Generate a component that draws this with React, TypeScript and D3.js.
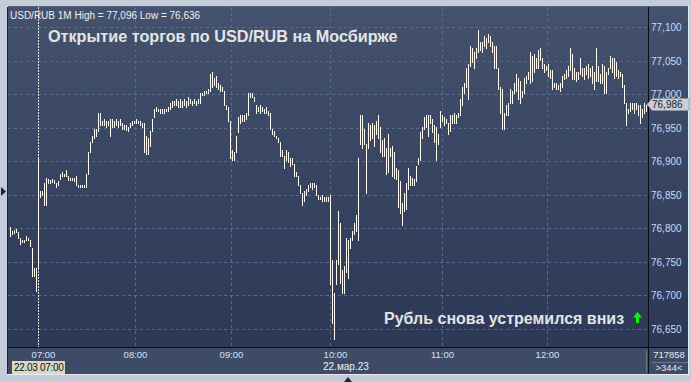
import React from 'react';
import * as d3 from 'd3';

// Minute bars (high / low), left to right
const highs = [
  76.803,76.797,76.799,76.800,76.796,76.787,76.784,76.783,76.789,76.787,
  76.784,76.771,76.741,76.742,76.906,76.857,76.857,76.868,76.876,76.875,
  76.873,76.875,76.873,76.869,76.872,76.881,76.884,76.882,76.887,76.878,
  76.876,76.876,76.876,76.878,76.866,76.866,76.866,76.866,76.882,76.914,
  76.930,76.939,76.949,76.949,76.973,76.972,76.961,76.964,76.961,76.961,
  76.964,76.964,76.961,76.964,76.961,76.963,76.958,76.954,76.954,76.951,
  76.957,76.960,76.961,76.963,76.961,76.960,76.958,76.958,76.939,76.935,
  76.946,76.964,76.979,76.981,76.979,76.979,76.978,76.978,76.979,76.981,
  76.988,76.991,76.991,76.993,76.991,76.993,76.991,76.994,76.990,76.996,
  76.993,76.991,76.994,76.991,76.993,77.003,77.003,77.005,77.006,77.008,
  77.031,77.033,77.025,77.028,77.018,77.015,77.012,77.006,76.984,76.981,
  76.961,76.917,76.914,76.939,76.966,76.969,76.969,76.970,76.972,77.003,
  77.003,77.003,76.997,76.984,76.982,76.984,76.982,76.979,76.981,76.976,
  76.973,76.949,76.946,76.939,76.935,76.930,76.917,76.909,76.917,76.914,
  76.906,76.906,76.897,76.884,76.879,76.865,76.853,76.857,76.860,76.866,
  76.868,76.868,76.868,76.866,76.850,76.848,76.850,76.847,76.847,76.847,
  76.850,76.753,76.705,76.753,76.827,76.809,76.738,76.745,76.786,76.783,
  76.786,76.797,76.809,76.820,76.906,
  76.969,76.969,76.949,76.927,76.958,76.954,76.958,76.954,76.961,76.969,
  76.951,76.932,76.935,76.921,76.942,76.921,76.924,76.914,76.890,76.887,
  76.872,76.838,76.853,76.869,76.891,76.879,76.876,76.875,76.894,76.906,
  76.944,76.951,76.966,76.969,76.969,76.969,76.964,76.954,76.951,76.942,
  76.976,76.969,76.966,76.964,76.958,76.969,76.969,76.973,76.969,76.972,
  76.994,77.011,77.017,77.040,77.046,77.073,77.069,77.063,77.069,77.096,
  77.078,77.078,77.088,77.085,77.091,77.088,77.078,77.073,77.073,77.039,
  77.011,77.009,76.973,76.984,76.987,77.009,77.006,77.018,77.031,77.025,
  77.021,77.006,77.025,77.028,77.033,77.063,77.058,77.061,77.054,77.066,
  77.069,77.054,77.046,77.043,77.046,77.036,77.036,77.018,77.017,77.014,
  77.017,77.028,77.031,77.036,77.043,77.070,77.061,77.039,77.033,77.033,
  77.055,77.040,77.040,77.043,77.046,77.039,77.043,77.033,77.069,77.043,
  77.031,77.046,77.043,77.033,77.040,77.058,77.055,77.054,77.048,77.036,
  77.033,77.031,77.014,76.987,76.979,76.988,76.988,76.987,76.988,76.984,
  76.984,76.979,76.987,76.984,
];
const lows = [
  76.790,76.793,76.794,76.795,76.787,76.778,76.780,76.780,76.783,76.783,
  76.775,76.730,76.730,76.707,76.742,76.848,76.850,76.835,76.836,76.869,
  76.869,76.870,76.868,76.862,76.865,76.875,76.878,76.878,76.879,76.873,
  76.873,76.873,76.872,76.865,76.863,76.863,76.863,76.863,76.863,76.882,
  76.914,76.930,76.935,76.939,76.946,76.954,76.954,76.955,76.952,76.954,
  76.939,76.952,76.951,76.955,76.952,76.954,76.949,76.949,76.948,76.946,
  76.951,76.955,76.957,76.957,76.957,76.955,76.952,76.914,76.912,76.912,
  76.924,76.946,76.966,76.975,76.975,76.973,76.973,76.972,76.975,76.976,
  76.979,76.982,76.984,76.985,76.982,76.982,76.981,76.985,76.982,76.984,
  76.987,76.985,76.987,76.985,76.988,76.987,76.999,77.000,77.002,77.003,
  77.006,77.011,77.014,77.011,77.009,77.006,77.006,76.984,76.979,76.961,
  76.906,76.902,76.902,76.914,76.944,76.958,76.961,76.961,76.964,76.969,
  76.996,76.997,76.991,76.972,76.976,76.973,76.976,76.973,76.972,76.969,
  76.949,76.941,76.938,76.935,76.929,76.909,76.909,76.891,76.902,76.899,
  76.894,76.897,76.879,76.878,76.865,76.853,76.835,76.842,76.850,76.857,
  76.863,76.860,76.863,76.850,76.845,76.844,76.842,76.842,76.842,76.842,
  76.718,76.659,76.636,76.718,76.748,76.720,76.705,76.704,76.735,76.726,
  76.771,76.783,76.793,76.797,76.783,
  76.927,76.921,76.927,76.853,76.920,76.932,76.936,76.924,76.942,76.936,
  76.914,76.909,76.909,76.882,76.884,76.909,76.879,76.876,76.875,76.832,
  76.824,76.805,76.827,76.830,76.860,76.865,76.865,76.865,76.872,76.897,
  76.902,76.936,76.949,76.951,76.939,76.958,76.944,76.929,76.902,76.927,
  76.951,76.961,76.954,76.957,76.942,76.946,76.957,76.958,76.957,76.966,
  76.969,76.984,77.002,77.011,76.994,77.043,77.048,77.040,77.054,77.063,
  77.066,77.063,77.073,77.070,77.078,77.073,77.063,77.040,77.039,77.009,
  76.973,76.949,76.949,76.969,76.969,76.987,76.987,77.002,77.006,76.994,
  76.988,76.996,77.002,77.018,77.024,77.018,77.021,77.033,77.040,77.040,
  77.051,77.039,77.033,77.036,77.028,77.025,77.009,77.011,77.009,77.009,
  77.006,77.011,77.024,77.025,77.028,77.036,77.024,77.024,77.021,77.024,
  77.031,77.028,77.024,77.031,77.025,77.028,77.018,77.009,77.021,77.021,
  77.018,77.017,77.003,77.003,77.031,77.039,77.033,77.025,77.028,77.025,
  77.028,77.011,76.987,76.954,76.973,76.976,76.979,76.973,76.979,76.969,
  76.957,76.966,76.972,76.976,
];

const priceTicks = [77.1, 77.05, 77.0, 76.95, 76.9, 76.85, 76.8, 76.75, 76.7, 76.65];
const timeLabels = ['07:00', '08:00', '09:00', '10:00', '11:00', '12:00'];
const timeBarIndex = [14, 62.5, 110.5, 160, 216, 268.5];
const sessionStartIndex = 14;
const lastPrice = 76.986;

const headerText = 'USD/RUB 1M High = 77,096 Low = 76,636';
const titleText = 'Открытие торгов по USD/RUB на Мосбирже';
const noteText = 'Рубль снова устремился вниз';
const dateBoxText = '22.03 07:00';
const dateText = '22.мар.23';
const volumeText = '717858';
const barsText = '>344<';

const FONT = '"Liberation Sans", Arial, sans-serif';

export default function App() {
  const W = 691;
  const H = 382;
  const L = 8, R = 648, T = 7, B = 347, AX = 688, BB = 374;

  const x = d3.scaleLinear().domain([0, highs.length - 1]).range([10.5, 10.5 + 2 * (highs.length - 1)]);
  const y = d3.scaleLinear().domain([76.65, 77.1]).range([329.5, 27.5]);
  const fmt = (v: number) => d3.format('.3f')(v).replace('.', ',');

  const py = Math.round(y(lastPrice)) + 0.5;

  return (
    <svg width={W} height={H} style={{ position: 'absolute', left: 0, top: 0, display: 'block' }} fontFamily={FONT}>
      <defs>
        <linearGradient id="plotBg" x1="0" y1="0" x2="0" y2="1">
          <stop offset="0%" stopColor="#44526e" />
          <stop offset="100%" stopColor="#2c3856" />
        </linearGradient>
      </defs>
      <rect x={0} y={0} width={W} height={H} fill="#c3ccd8" />
      <rect x={L - 1} y={T - 1} width={AX - L + 2} height={BB - T + 2} fill="#e6ebf2" />
      <rect x={L} y={T} width={AX - L} height={B - T} fill="url(#plotBg)" />
      <rect x={L} y={B} width={AX - L} height={BB - B} fill="#3e4b67" />
      <line x1={L - 0.5} x2={L - 0.5} y1={T} y2={BB} stroke="#1c2438" />
      <line x1={L} x2={AX} y1={T - 0.5} y2={T - 0.5} stroke="#56637e" />

      {/* horizontal grid */}
      {priceTicks.map((v) => (
        <line key={'h' + v} x1={L} x2={R} y1={Math.floor(y(v)) + 0.5} y2={Math.floor(y(v)) + 0.5}
          stroke="#5a6a89" strokeDasharray="3,3" />
      ))}
      {/* vertical grid */}
      {timeBarIndex.map((t, i) => t === sessionStartIndex ? null : (
        <line key={'v' + i} x1={Math.floor(x(t)) + 0.5} x2={Math.floor(x(t)) + 0.5} y1={T} y2={B}
          stroke="#5a6a89" strokeDasharray="3,3" />
      ))}
      <line x1={Math.floor(x(sessionStartIndex)) + 0.5} x2={Math.floor(x(sessionStartIndex)) + 0.5} y1={T} y2={B}
        stroke="#e8e8e8" strokeDasharray="2,1" />

      {/* bars */}
      <g fill="#fffaf2" shapeRendering="crispEdges">
        {highs.map((h, i) => {
          const y1 = Math.round(y(h));
          const y2 = Math.round(y(lows[i]));
          return <rect key={i} x={x(i) - 0.5} y={y1} width={1} height={Math.max(1, y2 - y1 + 1)} />;
        })}
      </g>

      {/* texts in plot */}
      <text x={10} y={18.5} fontSize={10} fill="#eef0f4">{headerText}</text>
      <text x={48} y={41.5} fontSize={16.2} fill="#e4e4e4" fontWeight="bold">{titleText}</text>
      <text x={384} y={324} fontSize={16} fill="#e4e4e4" fontWeight="bold">{noteText}</text>
      <path d="M633,317.5 L637.5,312 L642,317.5 L639,317.5 L639,323 L636,323 L636,317.5 Z" fill="#10f010" />

      {/* right axis */}
      <line x1={R + 0.5} x2={R + 0.5} y1={T} y2={BB} stroke="#0c0e14" />
      {priceTicks.map((v) => (
        <text key={'yl' + v} x={651} y={y(v) + 3.5} fontSize={10} fill="#c4dcff">{fmt(v)}</text>
      ))}
      <path d={`M${R - 1},${py} L${R + 4},${py - 6} L${AX + 1},${py - 6} L${AX + 1},${py + 6} L${R + 4},${py + 6} Z`}
        fill="#c9ced6" stroke="#8e96a6" strokeWidth={0.6} />
      <text x={652} y={py + 3.5} fontSize={10} fill="#1a1e2a">{fmt(lastPrice)}</text>

      {/* bottom axis */}
      <line x1={L} x2={AX} y1={B + 0.5} y2={B + 0.5} stroke="#0c0e14" />
      {timeBarIndex.map((t, i) => (
        <text key={'xl' + i} x={x(t) + (i === 0 || i === 3 ? 5 : 0)} y={357.5} fontSize={9.5} fill="#d4e2f8" textAnchor="middle">{timeLabels[i]}</text>
      ))}
      <rect x={12} y={361} width={53} height={13} fill="#d8d9c2" />
      <text x={14} y={371} fontSize={10} fill="#101010" letterSpacing={-0.3}>{dateBoxText}</text>
      <text x={323} y={370} fontSize={10} fill="#eef0f4">{dateText}</text>
      <line x1={646.5} x2={646.5} y1={350} y2={372} stroke="#6b7690" />
      <line x1={652} x2={AX} y1={362.5} y2={362.5} stroke="#6b7690" />
      <text x={669} y={358} fontSize={9.5} fill="#e4e8f0" textAnchor="middle">{volumeText}</text>
      <text x={669} y={371} fontSize={9.5} fill="#e4e8f0" textAnchor="middle">{barsText}</text>

      {/* frame markers */}
      <path d="M1,187 L6,191.5 L1,196 Z" fill="#1c2438" />
      <path d="M344,382 L348,377 L352,382 Z" fill="#1c2438" />
    </svg>
  );
}
